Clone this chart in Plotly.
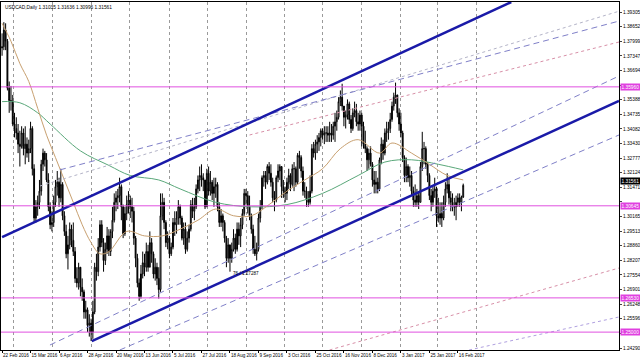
import plotly.graph_objects as go
import datetime as dt

# ---------------- data ----------------
start = dt.date(2016, 2, 22)
end = dt.date(2017, 2, 21)
skip = {dt.date(2016, 12, 26), dt.date(2017, 1, 2)}
dates = []
d = start
while d <= end:
    if d.weekday() < 5 and d not in skip:
        dates.append(d)
    d += dt.timedelta(days=1)

first_open = 1.3770
highs = [
 1.3835,1.3885,1.3880,1.3810,1.3620, 1.3600,1.3560,1.3480,1.3460,1.3430,
 1.3400,1.3420,1.3410,1.3420,1.3370, 1.3360,1.3440,1.3420,1.3250,1.3090,
 1.3110,1.3180,1.3270,1.3320,1.3310, 1.3300,1.3210,1.3080,1.3040,1.3110,
 1.3180,1.3220,1.3190,1.3230,1.3170, 1.3040,1.2980,1.2930,1.2990,1.2980,
 1.2990,1.2880,1.2790,1.2810,1.2780, 1.2740,1.2690,1.2640,1.2610,1.2580,
 1.2560,1.2640,1.2810,1.2850,1.2920, 1.3000,1.3000,1.2920,1.2900,1.2970,
 1.2960,1.2960,1.3060,1.3120,1.3130, 1.3140,1.3190,1.3160,1.3070,1.3060,
 1.3110,1.3130,1.3110,1.3100,1.3060, 1.2930,1.2850,1.2740,1.2800,1.2860,
 1.2850,1.2900,1.2890,1.2950,1.2920, 1.2860,1.2830,1.2810,1.2790,1.3120,
 1.3120,1.3100,1.3000,1.2950,1.2930, 1.2900,1.3010,1.3040,1.3040,1.3090,
 1.3070,1.3020,1.2990,1.2990,1.2950, 1.2980,1.3090,1.3100,1.3100,1.3160,
 1.3200,1.3240,1.3250,1.3210,1.3180, 1.3230,1.3240,1.3220,1.3180,1.3190,
 1.3190,1.3170,1.3080,1.3050,1.3030, 1.3000,1.2930,1.2920,1.2890,1.2900,
 1.2960,1.2940,1.2990,1.2990,1.3010, 1.3050,1.3140,1.3140,1.3130,1.3110,
 1.3030,1.2980,1.2930,1.2900,1.3030, 1.3090,1.3200,1.3220,1.3220,1.3250,
 1.3260,1.3250,1.3190,1.3130,1.3200, 1.3250,1.3250,1.3240,1.3180,1.3150,
 1.3190,1.3230,1.3210,1.3250,1.3260, 1.3240,1.3300,1.3310,1.3290,1.3240,
 1.3170,1.3150,1.3130,1.3200,1.3340, 1.3350,1.3360,1.3380,1.3390,1.3410,
 1.3410,1.3420,1.3420,1.3420,1.3440, 1.3430,1.3440,1.3480,1.3490,1.3550,
 1.3580,1.3610,1.3500,1.3490,1.3540, 1.3530,1.3470,1.3500,1.3530,1.3520,
 1.3480,1.3490,1.3480,1.3440,1.3400, 1.3330,1.3320,1.3330,1.3260,1.3220,
 1.3220,1.3190,1.3280,1.3370,1.3360, 1.3410,1.3440,1.3440,1.3480,1.3530,
 1.3570,1.3615,1.3560,1.3500, 1.3480,1.3400,1.3290,1.3280,
 1.3250,1.3240,1.3220,1.3150,1.3160, 1.3140,1.3130,1.3260,1.3395,1.3350,
 1.3330,1.3260,1.3210,1.3140,1.3150, 1.3190,1.3150,1.3100,1.3080,1.3080,
 1.3110,1.3170,1.3210,1.3190,1.3130, 1.3120,1.3100,1.3110,1.3120,1.3120,
 1.3110,1.31636]
lows = [
 1.3735,1.3760,1.3760,1.3580,1.3480, 1.3490,1.3420,1.3370,1.3360,1.3300,
 1.3240,1.3320,1.3290,1.3250,1.3280, 1.3260,1.3300,1.3200,1.2990,1.2990,
 1.3020,1.3050,1.3110,1.3220,1.3240, 1.3170,1.3040,1.2960,1.2950,1.2970,
 1.3060,1.3110,1.3060,1.3080,1.3000, 1.2930,1.2830,1.2780,1.2870,1.2880,
 1.2840,1.2720,1.2700,1.2690,1.2660, 1.2640,1.2560,1.2560,1.2500,1.2480,
 1.2460,1.2470,1.2580,1.2730,1.2750, 1.2860,1.2880,1.2770,1.2800,1.2850,
 1.2840,1.2840,1.2920,1.2990,1.3040, 1.3050,1.3080,1.3000,1.2920,1.2930,
 1.3000,1.3030,1.3010,1.2990,1.2890, 1.2790,1.2700,1.2640,1.2650,1.2740,
 1.2750,1.2770,1.2770,1.2790,1.2810, 1.2740,1.2730,1.2710,1.2650,1.2680,
 1.3000,1.2960,1.2880,1.2870,1.2830, 1.2840,1.2870,1.2930,1.2940,1.2980,
 1.2980,1.2910,1.2890,1.2850,1.2860, 1.2900,1.2950,1.3010,1.3000,1.3050,
 1.3120,1.3130,1.3150,1.3130,1.3050, 1.3060,1.3110,1.3110,1.3090,1.3060,
 1.3100,1.3040,1.2970,1.2970,1.2950, 1.2900,1.2790,1.2810,1.2770,1.2810,
 1.2860,1.2850,1.2860,1.2890,1.2880, 1.2960,1.3020,1.3070,1.3030,1.3000,
 1.2940,1.2850,1.2840,1.2820,1.2860, 1.2990,1.3050,1.3150,1.3140,1.3160,
 1.3180,1.3150,1.3080,1.3040,1.3080, 1.3170,1.3180,1.3100,1.3100,1.3080,
 1.3090,1.3140,1.3130,1.3150,1.3130, 1.3150,1.3160,1.3230,1.3190,1.3110,
 1.3100,1.3060,1.3060,1.3070,1.3120, 1.3280,1.3270,1.3300,1.3310,1.3330,
 1.3360,1.3340,1.3350,1.3350,1.3350, 1.3350,1.3360,1.3350,1.3400,1.3450,
 1.3510,1.3490,1.3420,1.3410,1.3450, 1.3430,1.3390,1.3400,1.3460,1.3420,
 1.3400,1.3400,1.3330,1.3320,1.3300, 1.3220,1.3230,1.3240,1.3150,1.3120,
 1.3120,1.3120,1.3130,1.3250,1.3270, 1.3290,1.3350,1.3360,1.3390,1.3440,
 1.3490,1.3520,1.3460,1.3400, 1.3370,1.3260,1.3170,1.3170,
 1.3170,1.3150,1.3110,1.3060,1.3060, 1.3060,1.3050,1.3080,1.3220,1.3250,
 1.3230,1.3170,1.3090,1.3040,1.3060, 1.3100,1.2970,1.2990,1.2980,1.2970,
 1.3000,1.3060,1.3120,1.3070,1.3040, 1.3040,1.3020,1.3000,1.3060,1.3060,
 1.3040,1.30996]
closes = [
 1.3775,1.3850,1.3800,1.3590,1.3535, 1.3530,1.3430,1.3410,1.3390,1.3340,
 1.3330,1.3390,1.3320,1.3340,1.3300, 1.3320,1.3410,1.3230,1.3010,1.3060,
 1.3080,1.3130,1.3250,1.3300,1.3270, 1.3180,1.3060,1.2980,1.2990,1.3080,
 1.3150,1.3170,1.3100,1.3160,1.3020, 1.2950,1.2850,1.2890,1.2960,1.2910,
 1.2860,1.2740,1.2720,1.2790,1.2700, 1.2680,1.2590,1.2600,1.2530,1.2540,
 1.2500,1.2590,1.2790,1.2770,1.2880, 1.2980,1.2900,1.2820,1.2870,1.2930,
 1.2860,1.2950,1.3000,1.3080,1.3100, 1.3110,1.3150,1.3060,1.2940,1.3030,
 1.3070,1.3090,1.3060,1.3040,1.2920, 1.2830,1.2720,1.2660,1.2760,1.2810,
 1.2790,1.2860,1.2790,1.2900,1.2850, 1.2760,1.2790,1.2740,1.2690,1.3020,
 1.3080,1.2990,1.2900,1.2920,1.2850, 1.2880,1.2990,1.2980,1.3010,1.3060,
 1.3010,1.2920,1.2960,1.2870,1.2920, 1.2960,1.3070,1.3040,1.3060,1.3140,
 1.3180,1.3200,1.3190,1.3180,1.3060, 1.3210,1.3130,1.3170,1.3120,1.3150,
 1.3160,1.3060,1.2990,1.3020,1.2990, 1.2920,1.2830,1.2890,1.2830,1.2870,
 1.2920,1.2870,1.2960,1.2930,1.2980, 1.3030,1.3120,1.3110,1.3060,1.3020,
 1.2960,1.2870,1.2850,1.2870,1.3010, 1.3060,1.3190,1.3200,1.3170,1.3240,
 1.3210,1.3170,1.3100,1.3090,1.3190, 1.3220,1.3240,1.3150,1.3130,1.3120,
 1.3170,1.3200,1.3160,1.3230,1.3230, 1.3170,1.3290,1.3280,1.3220,1.3130,
 1.3130,1.3090,1.3080,1.3130,1.3320, 1.3300,1.3340,1.3350,1.3370,1.3400,
 1.3380,1.3390,1.3390,1.3380,1.3390, 1.3380,1.3420,1.3440,1.3460,1.3530,
 1.3550,1.3510,1.3460,1.3470,1.3520, 1.3450,1.3410,1.3480,1.3490,1.3440,
 1.3430,1.3470,1.3420,1.3340,1.3320, 1.3270,1.3300,1.3250,1.3180,1.3160,
 1.3170,1.3140,1.3270,1.3340,1.3300, 1.3390,1.3400,1.3410,1.3450,1.3510,
 1.3550,1.3560,1.3480,1.3430, 1.3390,1.3280,1.3200,1.3240,
 1.3190,1.3200,1.3130,1.3090,1.3080, 1.3110,1.3080,1.3240,1.3320,1.3320,
 1.3250,1.3200,1.3110,1.3080,1.3130, 1.3140,1.3020,1.3010,1.3030,1.3010,
 1.3080,1.3140,1.3160,1.3100,1.3080, 1.3060,1.3060,1.3080,1.3100,1.3080,
 1.31035,1.31561]

# moving averages (bar index, price)
ma_slow_idx = [0, 10, 20, 27, 44, 60, 72, 88, 100, 120, 140, 160, 180, 200, 215, 230, 245, 259]
ma_slow_val = [1.3530, 1.3525, 1.3480, 1.3430, 1.3310, 1.3245, 1.3200, 1.3180, 1.3140, 1.3080,
               1.3060, 1.3070, 1.3120, 1.3200, 1.3260, 1.3270, 1.3250, 1.3225]
ma_fast_idx = [0, 5, 10, 15, 20, 25, 30, 35, 40, 45, 50, 55, 60, 70, 80, 90, 100, 110, 120, 130,
               140, 150, 160, 170, 180, 190, 200, 212, 219, 230, 240, 250, 259]
ma_fast_val = [1.3880, 1.3800, 1.3700, 1.3620, 1.3500, 1.3380, 1.3280, 1.3180, 1.3080, 1.2980,
               1.2900, 1.2850, 1.2860, 1.2950, 1.2930, 1.2930, 1.2960, 1.3000, 1.3050, 1.3020,
               1.3020, 1.3070, 1.3130, 1.3180, 1.3230, 1.3320, 1.3360, 1.3300, 1.3345, 1.3300,
               1.3250, 1.3200, 1.3180]

# horizontal levels
levels = [1.35960, 1.30645, 1.26530, 1.25000]
level_labels = ["1.35960", "1.30645", "1.26530", "1.25000"]

# drawn trend lines: (bar0, price0, bar1, price1)
thick_lines = [(0, 1.2925, 286, 1.3975), (50.4, 1.2460, 346.5, 1.3533)]
dashed_lines = [(32.5, 1.32250, 346.5, 1.38900),
                (26.9, 1.24424, 346.5, 1.36445),
                (66.1, 1.24201, 346.5, 1.33809)]
dotted_gray_lines = [(21.3, 1.31530, 346.5, 1.39340)]
dotted_pink_lines = [(139.0, 1.33809, 346.5, 1.37964),
                     (183.9, 1.24201, 346.5, 1.27865)]
dotted_lav_lines = [(262.3, 1.24201, 346.5, 1.25676)]

last_price = 1.31561
title_text = "USDCAD,Daily 1.31035 1.31636 1.30996 1.31561"
cursor_text = "76 / 1.27287"

label_idx = [0, 16, 32, 48, 64, 80, 96, 112, 128, 144, 160, 176, 192, 208, 224, 240, 256]
grid_idx = [6.2, 28.6, 50.4, 71.7, 94.2, 115.5, 137.3, 158.6, 180, 201.8, 223.7, 244.4, 266.3]

# ---------------- figure ----------------
N = len(dates)
x = list(range(N))
opens = [first_open] + closes[:-1]

y_top_lab, y_bot_lab = 1.39305, 1.24290
nt = 24
ytick = [y_bot_lab + (y_top_lab - y_bot_lab) * k / (nt - 1) for k in range(nt)]
hidden = {1, 10, 18}
ytext = ["" if k in hidden else "%.5f" % v for k, v in enumerate(ytick)]

fig = go.Figure()
fig.add_trace(go.Candlestick(
    x=x, open=opens, high=highs, low=lows, close=closes,
    increasing=dict(line=dict(color="#000000", width=1), fillcolor="#ffffff"),
    decreasing=dict(line=dict(color="#000000", width=1), fillcolor="#000000"),
    whiskerwidth=0, showlegend=False, hoverinfo="skip"))
fig.add_trace(go.Scatter(x=ma_slow_idx, y=ma_slow_val, mode="lines",
                         line=dict(color="#5aa87a", width=1, shape="spline"), showlegend=False))
fig.add_trace(go.Scatter(x=ma_fast_idx, y=ma_fast_val, mode="lines",
                         line=dict(color="#c8a070", width=1, shape="spline"), showlegend=False))

def add_lines(lines, color, width, dash):
    for (a, pa, b, pb) in lines:
        fig.add_trace(go.Scatter(x=[a, b], y=[pa, pb], mode="lines", hoverinfo="skip",
                                 line=dict(color=color, width=width, dash=dash), showlegend=False))

add_lines(dotted_gray_lines, "#b4b4c8", 1, "dot")
add_lines(dotted_pink_lines, "#d890a8", 1, "dot")
add_lines(dotted_lav_lines, "#b0a0e0", 1, "dot")
add_lines(dashed_lines, "#8080c8", 1, "6px,4px")
add_lines(thick_lines, "#1a1aa8", 2.5, "solid")

for lv in levels:
    fig.add_hline(y=lv, line=dict(color="#e050e0", width=1))

fig.add_trace(go.Scatter(x=[None], y=[None], xaxis="x2", showlegend=False))

xr = [-0.6, 346.5]
fig.update_layout(
    width=640, height=360,
    margin=dict(l=1, r=21, t=2, b=10),
    paper_bgcolor="#ffffff", plot_bgcolor="#ffffff",
    font=dict(family="Liberation Sans, Arial", size=6, color="#000000"),
    xaxis=dict(range=xr, tickmode="array", tickvals=label_idx, tickangle=0, automargin=False,
               ticktext=[dates[i].strftime("%-d %b %Y") for i in label_idx],
               showgrid=False, zeroline=False, showline=True, linecolor="#000000", mirror=True,
               ticks="outside", ticklen=2, tickcolor="#000", tickfont=dict(size=4.6),
               ticklabelposition="outside right", rangeslider=dict(visible=False)),
    xaxis2=dict(range=xr, overlaying="x", tickvals=grid_idx, showticklabels=False, automargin=False,
                showgrid=True, gridcolor="#9a9a9a", griddash="dot", gridwidth=1, zeroline=False),
    yaxis=dict(range=[1.24201, 1.39752], side="right", tickmode="array", tickvals=ytick,
               ticktext=ytext, showgrid=False, zeroline=False, automargin=False,
               showline=True, linecolor="#000000", mirror=True, ticks="outside", ticklen=2,
               tickfont=dict(size=4.8)),
)

for lv, lt in zip(levels, level_labels):
    fig.add_annotation(x=1.0, xref="paper", xanchor="left", y=lv, yref="y", text=lt,
                       showarrow=False, bgcolor="#e040e0", font=dict(size=4.8, color="#ffffff"),
                       borderpad=0.5, xshift=1)
fig.add_annotation(x=1.0, xref="paper", xanchor="left", y=last_price, yref="y", text="%.5f" % last_price,
                   showarrow=False, bgcolor="#000000", font=dict(size=4.8, color="#ffffff"),
                   borderpad=0.5, xshift=1, yshift=4)
fig.add_annotation(x=0.004, xref="paper", xanchor="left", y=0.996, yref="paper", yanchor="top",
                   text=title_text, showarrow=False, font=dict(size=4.8, color="#000000"))
fig.add_annotation(x=137, y=1.2760, text=cursor_text, showarrow=False, font=dict(size=4.6))

fig.write_html("out.html")
